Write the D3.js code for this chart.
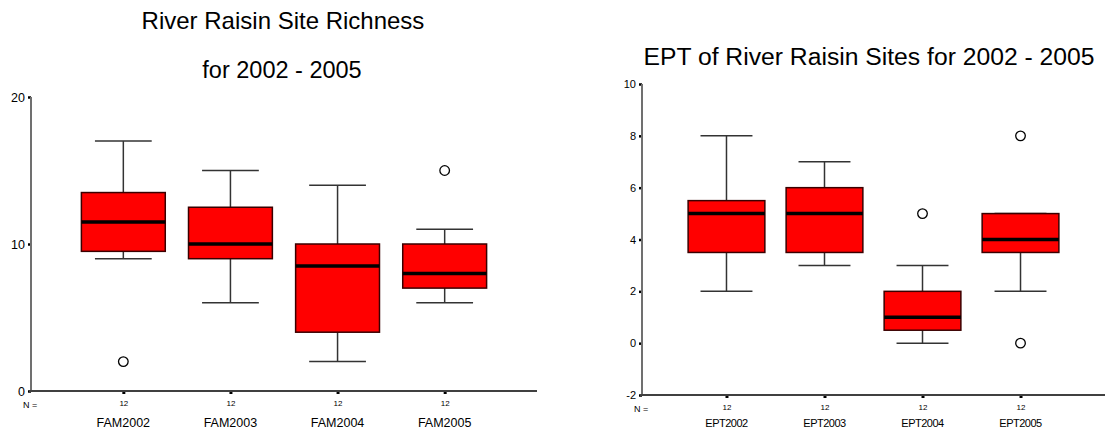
<!DOCTYPE html>
<html><head><meta charset="utf-8">
<script src="https://cdn.jsdelivr.net/npm/d3@7/dist/d3.min.js"></script>
<style>body{margin:0;background:#fff}svg{display:block}text{font-family:"Liberation Sans",Arial,sans-serif;fill:#000}</style>
</head><body><svg id="c" width="1106" height="431"></svg>
<script>
// Left chart: family richness
const famCats = ["FAM2002","FAM2003","FAM2004","FAM2005"];
const famN = [12,12,12,12];
const famWhiskerLow = [9,6,2,6];
const famQ1 = [9.5,9,4,7];
const famMedian = [11.5,10,8.5,8];
const famQ3 = [13.5,12.5,10,10];
const famWhiskerHigh = [17,15,14,11];
const famOutliers = [[2],[],[],[15]];
const famTicks = [0,10,20];

// Right chart: EPT
const eptCats = ["EPT2002","EPT2003","EPT2004","EPT2005"];
const eptN = [12,12,12,12];
const eptWhiskerLow = [2,3,0,2];
const eptQ1 = [3.5,3.5,0.5,3.5];
const eptMedian = [5,5,1,4];
const eptQ3 = [5.5,6,2,5];
const eptWhiskerHigh = [8,7,3,5];
const eptOutliers = [[],[],[5],[8,0]];
const eptTicks = [-2,0,2,4,6,8,10];

const svg = d3.select("#c");

function drawChart(o){
  const g = svg.append("g");
  const x = d3.scalePoint().domain(o.cats).range([o.x0,o.x1]).padding(0.862);
  const y = d3.scaleLinear().domain(o.ydom).range([o.y0,o.y1]);
  const step = x.step();
  const bw = step*0.783, cw = step*0.53;
  const data = o.cats.map((c,i)=>({c,lo:o.wl[i],q1:o.q1[i],med:o.med[i],q3:o.q3[i],hi:o.wh[i],out:o.out[i],n:o.n[i]}));

  // y axis
  const ya = d3.axisLeft(y).tickValues(o.ticks).tickSize(3).tickPadding(3).tickFormat(d=>String(d));
  const yg = g.append("g").attr("transform",`translate(${o.x0},0)`).call(ya);
  yg.select(".domain").remove();
  yg.selectAll(".tick line").attr("stroke","#000").attr("stroke-width",2.5);
  yg.selectAll(".tick text").style("font-size",o.yfs+"px");
  g.append("line").attr("x1",o.x0).attr("x2",o.x0).attr("y1",y(o.ydom[0])).attr("y2",y(o.ydom[1]))
    .attr("stroke","#707070").attr("stroke-width",2);

  // x axis
  const xa = d3.axisBottom(x).tickSize(3).tickFormat((d,i)=>o.n[i]).tickPadding(6);
  const xg = g.append("g").attr("transform",`translate(0,${o.y0})`).call(xa);
  xg.select(".domain").remove();
  xg.selectAll(".tick line").attr("stroke","#000").attr("stroke-width",3).attr("y1",0);
  xg.selectAll(".tick text").style("font-size","8px");
  g.append("line").attr("x1",o.x0-2).attr("x2",o.x1).attr("y1",o.y0).attr("y2",o.y0)
    .attr("stroke","#404040").attr("stroke-width",2);
  g.append("text").attr("x",o.x0-8).attr("y",o.y0+17).attr("text-anchor","start").style("font-size","9px").text("N =");
  g.selectAll(".cat").data(o.cats).enter().append("text").attr("class","cat")
    .attr("x",d=>x(d)).attr("y",o.catY).attr("text-anchor","middle").style("font-size",o.cfs+"px")
    .style("letter-spacing",o.ls).text(d=>d);

  // boxes
  const b = g.selectAll(".box").data(data).enter().append("g");
  b.append("line").attr("x1",d=>x(d.c)).attr("x2",d=>x(d.c)).attr("y1",d=>y(d.hi)).attr("y2",d=>y(d.q3)).attr("stroke","#333").attr("stroke-width",1.5);
  b.append("line").attr("x1",d=>x(d.c)).attr("x2",d=>x(d.c)).attr("y1",d=>y(d.q1)).attr("y2",d=>y(d.lo)).attr("stroke","#333").attr("stroke-width",1.5);
  b.append("line").attr("x1",d=>x(d.c)-cw/2).attr("x2",d=>x(d.c)+cw/2).attr("y1",d=>y(d.hi)).attr("y2",d=>y(d.hi)).attr("stroke","#333").attr("stroke-width",1.5);
  b.append("line").attr("x1",d=>x(d.c)-cw/2).attr("x2",d=>x(d.c)+cw/2).attr("y1",d=>y(d.lo)).attr("y2",d=>y(d.lo)).attr("stroke","#333").attr("stroke-width",1.5);
  b.append("rect").attr("x",d=>x(d.c)-bw/2).attr("width",bw).attr("y",d=>y(d.q3)).attr("height",d=>y(d.q1)-y(d.q3))
    .attr("fill","#ff0000").attr("stroke","#3a0000").attr("stroke-width",1.5);
  b.append("line").attr("x1",d=>x(d.c)-bw/2).attr("x2",d=>x(d.c)+bw/2).attr("y1",d=>y(d.med)).attr("y2",d=>y(d.med)).attr("stroke","#000").attr("stroke-width",3.5);
  b.selectAll("circle").data(d=>d.out.map(v=>({c:d.c,v}))).enter().append("circle")
    .attr("cx",d=>x(d.c)).attr("cy",d=>y(d.v)).attr("r",4.8).attr("fill","#fff").attr("stroke","#000").attr("stroke-width",1.3);

  // titles
  o.titles.forEach(t=>{
    g.append("text").attr("x",t.x).attr("y",t.y).attr("text-anchor","middle").style("font-size",t.fs+"px").text(t.text);
  });
}

drawChart({cats:famCats,n:famN,wl:famWhiskerLow,q1:famQ1,med:famMedian,q3:famQ3,wh:famWhiskerHigh,out:famOutliers,ticks:famTicks,
  x0:31,x1:537,y0:391,y1:97,ydom:[0,20],yfs:12.5,cfs:12.5,catY:427,ls:"0px",
  titles:[{text:"River Raisin Site Richness",x:283,y:29,fs:24},{text:"for 2002 - 2005",x:282,y:78,fs:23.5}]});
drawChart({cats:eptCats,n:eptN,wl:eptWhiskerLow,q1:eptQ1,med:eptMedian,q3:eptQ3,wh:eptWhiskerHigh,out:eptOutliers,ticks:eptTicks,
  x0:642,x1:1105,y0:395,y1:84,ydom:[-2,10],yfs:11,cfs:11,catY:427,ls:"-0.5px",
  titles:[{text:"EPT of River Raisin Sites for 2002 - 2005",x:869,y:65,fs:24.7}]});
</script></body></html>
